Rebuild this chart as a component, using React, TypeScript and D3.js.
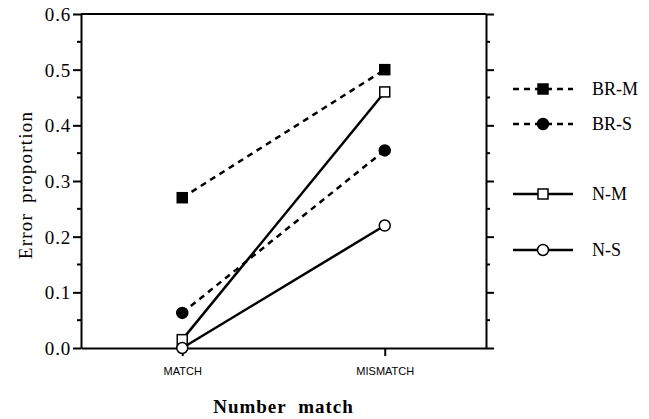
import React, { useEffect, useRef } from 'react'
import * as d3 from 'd3'

const categories = ['MATCH', 'MISMATCH']
const seriesNames = ['BR-M', 'BR-S', 'N-M', 'N-S']
const brM = [0.27, 0.5]
const brS = [0.063, 0.355]
const nM = [0.015, 0.46]
const nS = [0.0, 0.22]
const yTicks = [0, 0.1, 0.2, 0.3, 0.4, 0.5, 0.6]

function App() {
    const svgRef = useRef(null)

    const width = 649
    const height = 419
    const left = 81
    const right = 486
    const top = 14
    const bottom = 348

    useEffect(() => {
        const svg = d3.select(svgRef.current)
        svg.selectAll('*').remove()

        const x = d3.scalePoint().domain(categories).range([left, right]).padding(0.5)
        const y = d3.scaleLinear().domain([0, 0.6]).range([bottom, top])

        const serif = "'Liberation Serif', 'Times New Roman', serif"

        // frame top line
        svg.append('line')
            .attr('x1', left).attr('x2', right)
            .attr('y1', top).attr('y2', top)
            .attr('stroke', '#000').attr('stroke-width', 2)

        // left axis
        const yAxisL = svg.append('g')
            .attr('transform', `translate(${left},0)`)
            .call(d3.axisLeft(y).tickValues(yTicks).tickFormat(d3.format('.1f')).tickSize(8).tickSizeOuter(0))
        yAxisL.attr('font-family', serif).attr('font-size', 19)
        yAxisL.select('.domain').attr('stroke-width', 2)
        yAxisL.selectAll('line').attr('stroke-width', 2)
        yAxisL.selectAll('text').attr('x', -10).attr('dy', '0.34em').attr('letter-spacing', 0.8)

        // right axis
        const yAxisR = svg.append('g')
            .attr('transform', `translate(${right},0)`)
            .call(d3.axisRight(y).tickValues(yTicks).tickFormat(() => '').tickSize(8).tickSizeOuter(0))
        yAxisR.select('.domain').attr('stroke-width', 2)
        yAxisR.selectAll('line').attr('stroke-width', 2)

        // minor ticks
        const minor = d3.range(0.05, 0.6, 0.1)
        svg.append('g').selectAll('line').data(minor).enter().append('line')
            .attr('x1', left - 4).attr('x2', left)
            .attr('y1', d => y(d)).attr('y2', d => y(d))
            .attr('stroke', '#000').attr('stroke-width', 2)
        svg.append('g').selectAll('line').data(minor).enter().append('line')
            .attr('x1', right).attr('x2', right + 4)
            .attr('y1', d => y(d)).attr('y2', d => y(d))
            .attr('stroke', '#000').attr('stroke-width', 2)

        // bottom axis
        const xAxis = svg.append('g')
            .attr('transform', `translate(0,${bottom})`)
            .call(d3.axisBottom(x).tickSize(8).tickSizeOuter(0))
        xAxis.attr('font-family', "'Liberation Sans', Arial, sans-serif").attr('font-size', 11)
        xAxis.select('.domain').attr('stroke-width', 2)
        xAxis.selectAll('line').attr('stroke-width', 2)
        xAxis.selectAll('text').attr('y', 19)

        // axis titles
        svg.append('text')
            .attr('transform', `translate(32,${(top + bottom) / 2 + 4}) rotate(-90)`)
            .attr('text-anchor', 'middle')
            .attr('font-family', serif)
            .attr('font-size', 19)
            .attr('letter-spacing', 1.2)
            .attr('word-spacing', 4)
            .text('Error proportion')

        svg.append('text')
            .attr('x', (left + right) / 2)
            .attr('y', 413)
            .attr('text-anchor', 'middle')
            .attr('font-family', serif)
            .attr('font-size', 19)
            .attr('font-weight', 'bold')
            .attr('letter-spacing', 1)
            .attr('word-spacing', 6)
            .text('Number match')

        const series = [
            { name: seriesNames[0], values: brM, dash: '6,5', marker: 'square', fill: '#000', ly: 89 },
            { name: seriesNames[1], values: brS, dash: '6,5', marker: 'circle', fill: '#000', ly: 124 },
            { name: seriesNames[2], values: nM, dash: null, marker: 'square', fill: '#fff', ly: 194 },
            { name: seriesNames[3], values: nS, dash: null, marker: 'circle', fill: '#fff', ly: 250 },
        ]

        const line = d3.line<number>()
            .x((d, i) => x(categories[i]) as number)
            .y(d => y(d))

        series.forEach(s => {
            svg.append('path')
                .attr('d', line(s.values))
                .attr('fill', 'none')
                .attr('stroke', '#000')
                .attr('stroke-width', 2.5)
                .attr('stroke-dasharray', s.dash)
        })

        function drawMarker(g, kind, cx, cy, fill) {
            if (kind === 'square') {
                g.append('rect')
                    .attr('x', cx - 5).attr('y', cy - 5)
                    .attr('width', 10).attr('height', 10)
                    .attr('fill', fill).attr('stroke', '#000').attr('stroke-width', 1.5)
            } else {
                g.append('circle')
                    .attr('cx', cx).attr('cy', cy).attr('r', 5.5)
                    .attr('fill', fill).attr('stroke', '#000').attr('stroke-width', 1.5)
            }
        }

        series.forEach(s => {
            s.values.forEach((v, i) => {
                drawMarker(svg, s.marker, x(categories[i]), y(v), s.fill)
            })
        })

        // legend
        series.forEach(s => {
            const g = svg.append('g')
            g.append('line')
                .attr('x1', 513).attr('x2', 573)
                .attr('y1', s.ly).attr('y2', s.ly)
                .attr('stroke', '#000').attr('stroke-width', 2.5)
                .attr('stroke-dasharray', s.dash)
            drawMarker(g, s.marker, 543, s.ly, s.fill)
            g.append('text')
                .attr('x', 592).attr('y', s.ly + 6)
                .attr('font-family', serif)
                .attr('font-size', 18)
                .text(s.name)
        })
    }, [])

    return (
        <div>
            <svg ref={svgRef} width={width} height={height} style={{ position: 'absolute', left: 0, top: 0 }} />
        </div>
    )
}

export default App
